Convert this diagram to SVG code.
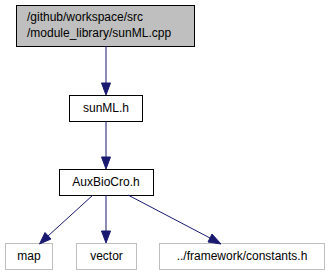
<svg xmlns="http://www.w3.org/2000/svg" width="329" height="276" viewBox="0 0 329 276">
<style>
text{font-family:"Liberation Sans",Arial,sans-serif;font-size:12px;fill:#000}
.n rect{fill:#fff;stroke:#000;stroke-width:1}
.g rect{fill:#fff;stroke:#bfbfbf;stroke-width:1}
.e{stroke:#191970;stroke-width:1;fill:none}
.a{fill:#191970;stroke:#191970}
</style>
<rect width="329" height="276" fill="#fff"/>
<g id="node1" class="n"><rect x="16.5" y="5.5" width="178" height="41" style="fill:#bfbfbf"/><text x="27" y="21">/github/workspace/src</text><text x="27" y="37">/module_library/sunML.cpp</text></g>
<g id="node2" class="n"><rect x="69.5" y="95.5" width="73" height="26"/><text x="106" y="112" text-anchor="middle">sunML.h</text></g>
<g id="node3" class="n"><rect x="59.5" y="169.5" width="94" height="26"/><text x="106" y="186" text-anchor="middle">AuxBioCro.h</text></g>
<g id="node4" class="g"><rect x="5.5" y="243.5" width="47" height="26"/><text x="29" y="260" text-anchor="middle">map</text></g>
<g id="node5" class="g"><rect x="76.5" y="243.5" width="60" height="26"/><text x="106.5" y="260" text-anchor="middle">vector</text></g>
<g id="node6" class="g"><rect x="159.5" y="243.5" width="165" height="26"/><text x="242" y="260" text-anchor="middle">../framework/constants.h</text></g>
<g id="edges">
<path class="e" d="M106,46V83"/><polygon class="a" points="101.5,83 106,95 110.5,83"/>
<path class="e" d="M106,121V157"/><polygon class="a" points="101.5,157 106,169 110.5,157"/>
<path class="e" d="M93,195L48,236"/><polygon class="a" points="45,232.5 39.5,244 51,239"/>
<path class="e" d="M106,195V231"/><polygon class="a" points="101.5,231 106,243 110.5,231"/>
<path class="e" d="M128,195L210,238"/><polygon class="a" points="208,242 221,244 212,234"/>
</g>
</svg>
